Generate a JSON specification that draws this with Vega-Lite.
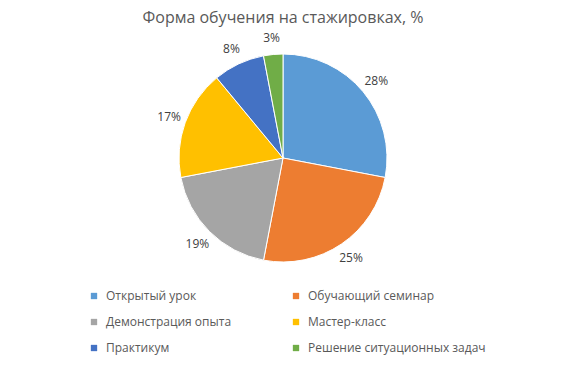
{
  "$schema": "https://vega.github.io/schema/vega-lite/v6.json",
  "width": 566,
  "height": 216,
  "padding": {"top": 50, "left": 0, "right": 0, "bottom": 99},
  "autosize": "none",
  "background": "white",
  "title": {"text": "Форма обучения на стажировках, %", "font": "Open Sans", "fontSize": 16, "fontWeight": "normal", "color": "#595959", "offset": 12, "dy": 6, "anchor": "middle"},
  "data": {"values": [
    {"i": 1, "form": "Открытый урок", "pct": 28, "label": "28%"},
    {"i": 2, "form": "Обучающий семинар", "pct": 25, "label": "25%"},
    {"i": 3, "form": "Демонстрация опыта", "pct": 19, "label": "19%"},
    {"i": 4, "form": "Мастер-класс", "pct": 17, "label": "17%"},
    {"i": 5, "form": "Практикум", "pct": 8, "label": "8%"},
    {"i": 6, "form": "Решение ситуационных задач", "pct": 3, "label": "3%"}
  ]},
  "encoding": {
    "theta": {"field": "pct", "type": "quantitative", "stack": true},
    "order": {"field": "i", "type": "quantitative"},
    "color": {
      "field": "form", "type": "nominal",
      "scale": {
        "domain": ["Открытый урок", "Обучающий семинар", "Демонстрация опыта", "Мастер-класс", "Практикум", "Решение ситуационных задач"],
        "range": ["#5B9BD5", "#ED7D31", "#A5A5A5", "#FFC000", "#4472C4", "#70AD47"]
      },
      "legend": {
        "title": null, "orient": "none", "legendX": 88, "legendY": 240, "columns": 2,
        "direction": "horizontal",
        "symbolType": "square", "symbolSize": 40, "symbolStrokeWidth": 0,
        "labelFont": "Open Sans", "labelFontSize": 12, "labelColor": "#595959", "labelLimit": 300,
        "rowPadding": 14, "columnPadding": 6, "gridAlign": "all", "labelOffset": 6
      }
    }
  },
  "layer": [
    {"mark": {"type": "arc", "outerRadius": 104, "stroke": "white", "strokeWidth": 1}},
    {"mark": {"type": "text", "radius": 121, "font": "Open Sans", "fontSize": 12},
     "encoding": {"text": {"field": "label", "type": "nominal"}, "color": {"value": "#404040"}}}
  ]
}
